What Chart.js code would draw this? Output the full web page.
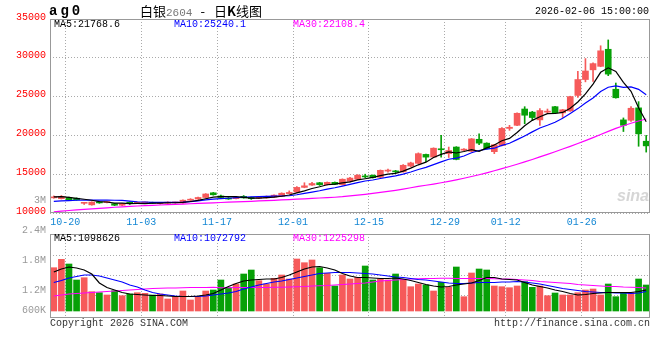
<!DOCTYPE html>
<html>
<head>
<meta charset="utf-8">
<script src="https://cdn.jsdelivr.net/npm/chart.js@4.4.1/dist/chart.umd.min.js"></script>
<style>
body { margin: 0; background: #fff; }
#wrap { position: relative; width: 660px; height: 360px; overflow: hidden; font-family: 'Liberation Mono', monospace; font-size: 10px; }
canvas { position: absolute; left: 0; }
.t { position: absolute; white-space: pre; line-height: 12px; }
</style>
</head>
<body>
<div id="wrap">
  <canvas id="priceChart" width="660" height="232" style="top:0"></canvas>
  <canvas id="volChart" width="660" height="170" style="top:190px"></canvas>

  <div class="t" style="left:49px;top:3px;font-weight:bold;font-size:14px;letter-spacing:3px;line-height:16px">ag0</div>
  <div class="t" style="left:140px;top:3px;font-family:'Noto Sans CJK SC';font-size:13px;line-height:16px">白银<span style="font-family:'Liberation Mono';font-size:11px;color:#777">2604</span><span style="margin:0 9px 0 8px">-</span>日<b>K</b>线图</div>
  <div class="t" style="left:535px;top:6px">2026-02-06 15:00:00</div>

  <div class="t" style="left:54px;top:19px">MA5:21768.6</div>
  <div class="t" style="left:174px;top:19px;color:#0000ff">MA10:25240.1</div>
  <div class="t" style="left:293px;top:19px;color:#ff00ff">MA30:22108.4</div>

  <div class="t" style="left:54px;top:233px">MA5:1098626</div>
  <div class="t" style="left:174px;top:233px;color:#0000ff">MA10:1072792</div>
  <div class="t" style="left:293px;top:233px;color:#ff00ff">MA30:1225298</div>

  <div class="t" style="left:617px;top:190px;font-family:'Liberation Sans';font-weight:bold;font-style:italic;font-size:16px;color:#d6d6d6">sina</div>

  <div class="t" style="left:50px;top:318px;color:#333">Copyright 2026 SINA.COM</div>
  <div class="t" style="left:494px;top:318px;color:#333">http://finance.sina.com.cn</div>
</div>

<script>
// trading days shown
const dates = [
  '2025-10-16','2025-10-17',
  '2025-10-20','2025-10-21','2025-10-22','2025-10-23','2025-10-24',
  '2025-10-27','2025-10-28','2025-10-29','2025-10-30','2025-10-31',
  '2025-11-03','2025-11-04','2025-11-05','2025-11-06','2025-11-07',
  '2025-11-10','2025-11-11','2025-11-12','2025-11-13','2025-11-14',
  '2025-11-17','2025-11-18','2025-11-19','2025-11-20','2025-11-21',
  '2025-11-24','2025-11-25','2025-11-26','2025-11-27','2025-11-28',
  '2025-12-01','2025-12-02','2025-12-03','2025-12-04','2025-12-05',
  '2025-12-08','2025-12-09','2025-12-10','2025-12-11','2025-12-12',
  '2025-12-15','2025-12-16','2025-12-17','2025-12-18','2025-12-19',
  '2025-12-22','2025-12-23','2025-12-24','2025-12-25','2025-12-26',
  '2025-12-29','2025-12-30','2025-12-31',
  '2026-01-05','2026-01-06','2026-01-07','2026-01-08','2026-01-09',
  '2026-01-12','2026-01-13','2026-01-14','2026-01-15','2026-01-16',
  '2026-01-19','2026-01-20','2026-01-21','2026-01-22','2026-01-23',
  '2026-01-26','2026-01-27','2026-01-28','2026-01-29','2026-01-30',
  '2026-02-02','2026-02-03','2026-02-04','2026-02-05'
];
const tickLabels = ['10-20', '11-03', '11-17', '12-01', '12-15', '12-29', '01-12', '01-26'];
const priceTicks = [10000, 15000, 20000, 25000, 30000, 35000];

const opens = [
  11950,11850,12000,11900,11250,11050,11400,11350,11200,11000,
  11400,11250,11300,11350,11200,11250,11300,11300,11650,11800,
  12000,12600,12200,11900,11850,12150,12000,11900,11950,12050,
  12150,12500,12700,13300,13600,13900,13650,13950,13650,14100,
  14360,14750,14870,14600,15400,15400,15300,16050,16400,17550,
  17200,18200,17650,18500,18100,17950,19500,19000,17900,18700,
  20900,21300,23400,23000,22000,23000,23700,22900,23150,25150,
  27200,28450,28900,31100,25950,22000,21950,23550,19250
];
const highs = [
  12200,12250,12050,11950,11350,11450,11450,11450,11250,11250,
  11450,11400,11400,11400,11300,11450,11400,11700,11850,12050,
  12500,12650,12300,12000,12100,12250,12050,12000,12200,12350,
  12600,12850,13400,13900,13950,13950,14000,14000,14400,14600,
  14950,15000,14900,15550,15650,15500,16250,16550,17750,17600,
  18400,20000,18500,18550,18300,19600,20200,19050,18850,21000,
  21300,22900,23700,23100,23450,23400,23750,23350,25050,28250,
  29900,29350,31550,32300,26750,22250,23700,24350,20000
];
const lows = [
  11900,11800,11600,11650,11100,11000,11250,11300,10950,10950,
  11100,11200,11250,11200,11150,11200,11250,11250,11600,11750,
  11950,12300,11950,11750,11800,11900,11750,11850,11900,12000,
  12100,12450,12650,13250,13550,13550,13600,13650,13600,14000,
  14300,14550,14500,14550,15250,15200,15250,15950,16350,16600,
  17150,17200,17150,16850,18000,17900,18800,18250,17650,18650,
  20650,21250,21500,21900,21300,22800,22800,22300,23100,24900,
  26900,26950,28850,27700,24800,20500,21800,18600,17850
];
const closes = [
  12050,12150,11650,11700,11300,11400,11300,11400,11000,11200,
  11200,11350,11350,11250,11250,11400,11350,11650,11750,12000,
  12450,12350,12000,11800,12000,11950,11850,11950,12150,12300,
  12550,12650,13300,13500,13800,13650,13950,13700,14350,14500,
  14870,14650,14550,15500,15500,15300,16150,16450,17650,17200,
  18350,18150,18050,16900,18200,19550,19000,18300,18800,20900,
  21050,22850,22600,22300,23200,23100,22900,23300,25000,27200,
  28300,29250,30900,27900,24850,21300,23500,20200,18650
];
const ma5 = [
  12090,12110,12010,11890,11770,11640,11470,11420,11280,11260,
  11220,11230,11220,11270,11280,11320,11320,11380,11480,11630,
  11840,12040,12110,12120,12120,12020,11920,11910,11980,12040,
  12160,12320,12590,12860,13160,13380,13640,13710,13880,14020,
  14260,14410,14580,14810,15010,15100,15400,15780,16210,16550,
  17160,17560,17880,17730,17930,18170,17940,18390,18770,19310,
  19610,20380,21240,21940,22400,22810,22820,22960,23500,24300,
  25340,26610,28130,28710,28240,26840,25690,23550,21770
];
const ma10 = [
  11500,11560,11600,11640,11650,11660,11660,11650,11640,11615,
  11530,11450,11420,11375,11370,11370,11375,11400,11475,11555,
  11680,11780,11845,11900,11975,12030,12080,12110,12150,12180,
  12190,12220,12350,12520,12700,12870,13080,13250,13470,13690,
  13920,14120,14250,14450,14620,14780,15010,15280,15610,15880,
  16230,16580,16930,17070,17340,17765,18050,18235,18350,18720,
  18990,19460,19915,20455,20955,21310,21700,22200,22820,23450,
  24175,24815,25645,26205,26370,26190,26250,25940,25240
];
const ma30 = [
  10150,10230,10320,10400,10470,10530,10600,10670,10740,10800,
  10850,10900,10950,10990,11030,11070,11110,11150,11190,11230,
  11270,11310,11350,11390,11430,11470,11510,11550,11590,11630,
  11680,11730,11780,11830,11880,11930,11980,12030,12100,12200,
  12300,12400,12520,12650,12780,12920,13080,13250,13420,13580,
  13730,13900,14080,14270,14480,14700,14930,15180,15440,15710,
  15990,16280,16580,16900,17230,17560,17900,18240,18590,18950,
  19330,19720,20120,20520,20900,21250,21560,21850,22108
];

const volumes = [
  1646000,1814000,1720000,1400000,1446000,1166000,1146000,1100000,1186000,1086000,
  1120000,1146000,1134000,1100000,1120000,1020000,1066000,1180000,1000000,1054000,
  1180000,1200000,1400000,1246000,1320000,1520000,1600000,1386000,1320000,1434000,
  1500000,1420000,1820000,1746000,1800000,1646000,1534000,1280000,1500000,1420000,
  1454000,1680000,1400000,1420000,1400000,1520000,1414000,1266000,1320000,1300000,
  1180000,1354000,1254000,1660000,1066000,1540000,1620000,1600000,1280000,1266000,
  1246000,1280000,1366000,1254000,1280000,1086000,1140000,1100000,1100000,1146000,
  1200000,1220000,1100000,1320000,1066000,1146000,1146000,1420000,1300000
];
const volMa5 = [
  1560000,1620000,1660000,1640000,1600000,1520000,1340000,1250000,1200000,1150000,
  1120000,1110000,1100000,1090000,1090000,1080000,1070000,1070000,1070000,1080000,
  1100000,1130000,1200000,1270000,1330000,1380000,1400000,1410000,1420000,1420000,
  1450000,1500000,1560000,1620000,1660000,1670000,1640000,1600000,1530000,1480000,
  1450000,1450000,1440000,1430000,1430000,1440000,1420000,1390000,1350000,1310000,
  1280000,1260000,1270000,1300000,1320000,1340000,1390000,1450000,1450000,1420000,
  1410000,1400000,1350000,1300000,1270000,1240000,1200000,1170000,1130000,1100000,
  1110000,1130000,1140000,1150000,1150000,1150000,1150000,1170000,1200000
];
const volMa10 = [
  1350000,1390000,1440000,1470000,1500000,1500000,1480000,1440000,1400000,1360000,
  1300000,1260000,1200000,1150000,1120000,1100000,1080000,1070000,1070000,1070000,
  1080000,1100000,1120000,1140000,1170000,1220000,1260000,1300000,1330000,1360000,
  1380000,1410000,1440000,1470000,1500000,1530000,1540000,1550000,1550000,1550000,
  1540000,1530000,1520000,1500000,1480000,1460000,1450000,1430000,1410000,1400000,
  1380000,1360000,1340000,1330000,1330000,1340000,1350000,1350000,1350000,1360000,
  1360000,1370000,1360000,1340000,1320000,1290000,1260000,1230000,1210000,1190000,
  1170000,1160000,1150000,1150000,1140000,1140000,1130000,1140000,1170000
];
const volMa30 = [
  1080000,1100000,1120000,1130000,1140000,1150000,1160000,1170000,1180000,1190000,
  1200000,1210000,1220000,1230000,1235000,1240000,1240000,1245000,1250000,1250000,
  1250000,1255000,1245000,1245000,1250000,1250000,1250000,1250000,1250000,1255000,
  1255000,1260000,1265000,1270000,1280000,1285000,1290000,1300000,1310000,1320000,
  1330000,1340000,1360000,1380000,1390000,1400000,1410000,1420000,1425000,1430000,
  1430000,1435000,1435000,1430000,1430000,1430000,1430000,1430000,1425000,1420000,
  1420000,1410000,1400000,1390000,1370000,1360000,1350000,1340000,1330000,1310000,
  1300000,1290000,1280000,1270000,1270000,1260000,1255000,1250000,1240000
];
const volTicks = [3000000, 2400000, 1800000, 1200000, 600000];
const volTickText = ['3M', '2.4M', '1.8M', '1.2M', '600K'];
const volGrid = [1100000, 1500000, 1900000];

const RED = '#f65a5a';
const GREEN = '#07a007';
const FONT = "'Liberation Mono', monospace";

const N = dates.length;
const candleColors = closes.map((c, i) => c >= opens[i] ? RED : GREEN);
const tickPos = tickLabels.map(l => dates.findIndex(d => d.slice(5) === l));
const pts = arr => arr.map((v, i) => ({ x: i + 0.5, y: v }));

// draws the grey frame round the plot area
const frame = {
  id: 'frame',
  afterDraw(chart) {
    const a = chart.chartArea, ctx = chart.ctx;
    ctx.save();
    ctx.strokeStyle = '#999';
    ctx.lineWidth = 1;
    ctx.strokeRect(a.left + 0.5, a.top + 0.5, a.right - a.left - 1, a.bottom - a.top - 1);
    ctx.restore();
  }
};

function maLine(data, color) {
  return { type: 'line', data: pts(data), borderColor: color, borderWidth: 1.2, pointRadius: 0, tension: 0, order: 0 };
}

function xAxis(showLabels) {
  return {
    type: 'linear', min: 0, max: N, offset: false,
    afterBuildTicks: s => { s.ticks = tickPos.map(v => ({ value: v })); },
    afterFit: s => { s.height = showLabels ? 19 : 42; },
    ticks: { display: showLabels, autoSkip: false, maxRotation: 0, padding: 3, color: '#1487d4',
             font: { family: FONT, size: 10 }, callback: (v, k) => tickLabels[k] },
    grid: { color: '#aaa', drawTicks: false, offset: false },
    border: { display: false, dash: [1, 2] }
  };
}

new Chart(document.getElementById('priceChart'), {
  type: 'bar',
  data: {
    datasets: [
      maLine(ma5, '#000000'),
      maLine(ma10, '#0000ff'),
      maLine(ma30, '#ff00ff'),
      {
        data: dates.map((d, i) => ({ x: i + 0.5, y: [lows[i], highs[i]] })),
        backgroundColor: candleColors, barThickness: 1, grouped: false, order: 2
      },
      {
        data: dates.map((d, i) => ({ x: i + 0.5, y: [opens[i], closes[i]] })),
        backgroundColor: candleColors, barThickness: 6, minBarLength: 1, grouped: false, order: 1
      }
    ]
  },
  options: {
    responsive: false,
    animation: false,
    layout: { padding: { top: 19, right: 10, left: 0, bottom: 0 } },
    plugins: { legend: { display: false }, tooltip: { enabled: false } },
    scales: {
      x: xAxis(true),
      y: {
        min: 10000, max: 35000,
        afterBuildTicks: s => { s.ticks = priceTicks.map(v => ({ value: v })); },
        afterFit: s => { s.width = 50; },
        ticks: { color: '#ff0000', padding: 4, labelOffset: -2, font: { family: FONT, size: 10 }, callback: v => String(v) },
        grid: { color: '#aaa', drawTicks: false },
        border: { display: false, dash: [1, 2] }
      }
    }
  },
  plugins: [frame]
});

// volume axis labels sit where the original puts them
const volLabels = {
  id: 'volLabels',
  afterDraw(chart) {
    const ctx = chart.ctx, y = chart.scales.y, a = chart.chartArea;
    ctx.save();
    ctx.fillStyle = '#999';
    ctx.font = '10px ' + FONT;
    ctx.textAlign = 'right';
    ctx.textBaseline = 'middle';
    volTicks.forEach((v, k) => {
      const py = Math.min(y.getPixelForValue(v), a.bottom - 8);
      ctx.fillText(volTickText[k], a.left - 4, py);
    });
    ctx.restore();
  }
};

new Chart(document.getElementById('volChart'), {
  type: 'bar',
  data: {
    datasets: [
      maLine(volMa5, '#000000'),
      maLine(volMa10, '#0000ff'),
      maLine(volMa30, '#ff00ff'),
      {
        data: pts(volumes), base: 780000,
        backgroundColor: candleColors, barThickness: 6, grouped: false, order: 1
      }
    ]
  },
  options: {
    responsive: false,
    animation: false,
    layout: { padding: { top: 44, right: 10, left: 0, bottom: 0 } },
    plugins: { legend: { display: false }, tooltip: { enabled: false } },
    scales: {
      x: xAxis(false),
      y: {
        min: 640000, max: 2320000,
        afterBuildTicks: s => { s.ticks = volGrid.map(v => ({ value: v })); },
        afterFit: s => { s.width = 50; },
        ticks: { display: false },
        grid: { color: '#aaa', drawTicks: false },
        border: { display: false, dash: [1, 2] }
      }
    }
  },
  plugins: [frame, volLabels]
});
</script>
</body>
</html>
